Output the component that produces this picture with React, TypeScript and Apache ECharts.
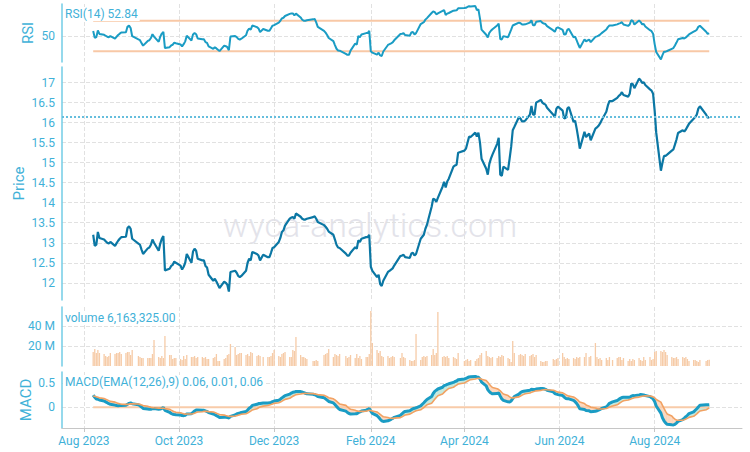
import React, { useEffect, useRef } from 'react';
import * as echarts from 'echarts';

// ---------------- data ----------------
const dataStart = '2023-08-07';
const dataEnd = '2024-09-05';
const marketHolidays = [
  '2023-09-04', '2023-11-23', '2023-12-25', '2024-01-01', '2024-01-15', '2024-02-19',
  '2024-03-29', '2024-05-27', '2024-06-19', '2024-07-04', '2024-09-02',
];

// daily closes, one per trading day of each month
const closeAug2023 = [13.2, 12.92, 12.95, 13.27, 13.12, 13.08, 13.04, 13.0, 12.98, 13.02, 12.92, 12.99, 13.05, 13.1, 13.14, 13.15, 13.37, 13.41, 13.35];
const closeSep2023 = [13.1, 12.98, 12.95, 12.83, 12.72, 12.86, 12.88, 12.95, 13.08, 13.0, 12.8, 12.98, 13.1, 13.17, 12.31, 12.35, 12.42, 12.45, 12.53, 12.5];
const closeOct2023 = [12.43, 12.33, 12.4, 12.5, 12.72, 12.5, 12.78, 12.85, 12.8, 12.6, 12.56, 12.56, 12.42, 12.38, 12.2, 12.05, 12.1, 12.03, 11.95, 11.87, 12.03, 12.0];
const closeNov2023 = [11.95, 11.78, 12.27, 12.3, 12.25, 12.17, 12.14, 12.17, 12.3, 12.5, 12.6, 12.56, 12.77, 12.72, 12.68, 12.56, 12.7, 12.64, 12.64, 12.75, 12.87];
const closeDec2023 = [12.89, 13.02, 13.12, 13.27, 13.31, 13.43, 13.6, 13.63, 13.64, 13.6, 13.73, 13.65, 13.6, 13.58, 13.58, 13.6, 13.64, 13.66, 13.6, 13.52];
const closeJan2024 = [13.44, 13.4, 13.35, 13.28, 13.2, 13.08, 12.95, 12.88, 12.87, 12.73, 12.68, 12.68, 12.75, 12.89, 12.85, 13.06, 13.02, 13.1, 13.14, 13.14, 13.2];
const closeFeb2024 = [12.4, 12.3, 12.14, 12.2, 11.97, 11.92, 12.05, 12.27, 12.3, 12.33, 12.36, 12.43, 12.67, 12.68, 12.7, 12.64, 12.62, 12.73, 12.75, 12.68];
const closeMar2024 = [12.72, 13.1, 13.15, 13.2, 13.35, 13.45, 13.9, 14.1, 14.08, 14.02, 14.12, 14.4, 14.52, 14.38, 14.53, 14.6, 14.9, 14.93, 14.95, 15.25];
const closeApr2024 = [15.3, 15.35, 15.5, 15.65, 15.64, 15.75, 15.65, 15.75, 15.5, 15.1, 14.85, 14.7, 14.97, 15.1, 15.2, 15.47, 15.62, 14.7, 14.67, 14.9, 14.82, 15.1];
const closeMay2024 = [15.4, 15.81, 15.89, 16.14, 16.1, 16.03, 16.03, 16.05, 16.2, 16.42, 16.2, 16.2, 16.5, 16.57, 16.5, 16.47, 16.45, 16.37, 16.2, 16.14, 16.35, 16.4];
const closeJun2024 = [16.3, 16.1, 16.12, 16.35, 16.39, 16.02, 16.05, 15.85, 15.62, 15.35, 15.77, 15.64, 15.73, 15.56, 15.85, 15.88, 15.92, 15.98, 16.06];
const closeJul2024 = [16.27, 16.43, 16.54, 16.54, 16.62, 16.67, 16.7, 16.76, 16.69, 16.65, 16.72, 16.98, 16.96, 16.86, 17.1, 17.06, 16.99, 17.01, 16.94, 16.83, 16.8, 16.72];
const closeAug2024 = [16.3, 15.75, 14.8, 15.0, 15.17, 15.17, 15.2, 15.3, 15.33, 15.45, 15.58, 15.74, 15.81, 15.78, 15.83, 15.9, 15.97, 16.1, 16.14, 16.2, 16.35, 16.41];
const closeSep2024 = [16.2, 16.12, 16.14];

// daily volumes in millions
const volAug2023 = [14, 17, 13, 16, 13, 12, 10, 9, 10, 13, 12, 13, 13, 14, 12, 13, 14, 14, 11];
const volSep2023 = [16, 10, 9, 8, 8, 8, 8, 8, 12, 26, 9, 8, 10, 8, 30, 11, 11, 7, 8, 8];
const volOct2023 = [7, 6, 10, 7, 11, 9, 9, 10, 8, 9, 9, 8, 9, 7, 7, 8, 9, 12, 5, 5, 7, 8];
const volNov2023 = [11, 12, 22, 19, 11, 12, 13, 13, 11, 12, 10, 14, 13, 10, 11, 10, 9, 9, 9, 10, 13];
const volDec2023 = [16, 10, 9, 12, 13, 14, 9, 9, 16, 15, 29, 11, 9, 9, 8, 7, 5, 5, 6, 5];
const volJan2024 = [11, 12, 13, 17, 9, 12, 11, 10, 12, 10, 8, 9, 11, 8, 12, 8, 10, 7, 9, 9, 12];
const volFeb2024 = [55, 23, 16, 13, 15, 10, 9, 10, 8, 9, 10, 9, 8, 13, 9, 8, 6, 5, 5, 6];
const volMar2024 = [32, 6, 9, 10, 9, 10, 11, 17, 11, 13, 54, 9, 10, 9, 10, 8, 9, 8, 7, 13];
const volApr2024 = [5, 6, 7, 5, 6, 5, 7, 8, 11, 13, 15, 10, 9, 8, 9, 8, 10, 9, 11, 10, 8, 7];
const volMay2024 = [4, 25, 13, 11, 12, 11, 10, 12, 10, 11, 12, 9, 11, 5, 4, 4, 5, 5, 7, 6, 7, 8];
const volJun2024 = [13, 9, 7, 8, 7, 8, 7, 9, 8, 9, 9, 13, 9, 10, 23, 9, 7, 8, 6];
const volJul2024 = [8, 6, 9, 6, 8, 9, 9, 6, 8, 5, 7, 5, 7, 6, 8, 6, 5, 9, 6, 9, 6, 7];
const volAug2024 = [14, 15, 15, 14, 16, 14, 11, 9, 8, 8, 9, 7, 9, 8, 9, 7, 5, 6, 6, 5, 4, 6];
const volSep2024 = [5, 6, 6.163325];

// indicator state at the first plotted day
const rsiPeriod = 14;
const rsiSeedGain = 0.065;
const rsiSeedLoss = 0.05;
const macdFast = 12;
const macdSlow = 26;
const macdSignal = 9;
const emaFastSeed = 13.25;
const emaSlowSeed = 13.0;
const signalSeed = 0.23;
const rsiBands = [70, 30];

// axes
const axisMin = '2023-07-18';
const axisMax = '2024-09-26';
const monthTickDates = ['2023-08-01', '2023-10-01', '2023-12-01', '2024-02-01', '2024-04-01', '2024-06-01', '2024-08-01'];
const monthTickLabels = ['Aug 2023', 'Oct 2023', 'Dec 2023', 'Feb 2024', 'Apr 2024', 'Jun 2024', 'Aug 2024'];
const rsiTicks = [50];
const priceTicks = [12, 12.5, 13, 13.5, 14, 14.5, 15, 15.5, 16, 16.5, 17];
const volumeTicks = [20e6, 40e6];
const macdTicks = [0, 0.5];

const titleRsi = 'RSI(14) 52.84';
const titleVolume = 'volume 6,163,325.00';
const titleMacd = 'MACD(EMA(12,26),9) 0.06, 0.01, 0.06';
const watermark = 'wyca-analytics.com';

// ---------------- build ----------------
const DAY = 86400000;
const ts = (s: string) => {
  const [y, m, d] = s.split('-').map(Number);
  return Date.UTC(y, m - 1, d);
};

const closeByMonth: Record<string, number[]> = {
  '2023-08': closeAug2023, '2023-09': closeSep2023, '2023-10': closeOct2023, '2023-11': closeNov2023,
  '2023-12': closeDec2023, '2024-01': closeJan2024, '2024-02': closeFeb2024, '2024-03': closeMar2024,
  '2024-04': closeApr2024, '2024-05': closeMay2024, '2024-06': closeJun2024, '2024-07': closeJul2024,
  '2024-08': closeAug2024, '2024-09': closeSep2024,
};
const volByMonth: Record<string, number[]> = {
  '2023-08': volAug2023, '2023-09': volSep2023, '2023-10': volOct2023, '2023-11': volNov2023,
  '2023-12': volDec2023, '2024-01': volJan2024, '2024-02': volFeb2024, '2024-03': volMar2024,
  '2024-04': volApr2024, '2024-05': volMay2024, '2024-06': volJun2024, '2024-07': volJul2024,
  '2024-08': volAug2024, '2024-09': volSep2024,
};

function buildRows() {
  const hol = new Set(marketHolidays);
  const rows: { t: number; close: number; vol: number }[] = [];
  const counter: Record<string, number> = {};
  for (let t = ts(dataStart); t <= ts(dataEnd); t += DAY) {
    const d = new Date(t);
    const wd = d.getUTCDay();
    if (wd === 0 || wd === 6) continue;
    const iso = d.toISOString().slice(0, 10);
    if (hol.has(iso)) continue;
    const key = iso.slice(0, 7);
    const i = counter[key] ?? 0;
    counter[key] = i + 1;
    const c = closeByMonth[key]?.[i];
    const v = volByMonth[key]?.[i];
    if (c === undefined) continue;
    rows.push({ t, close: c, vol: (v ?? 0) * 1e6 });
  }
  return rows;
}

const FILL_UP = '#c5e9de';
const FILL_DOWN = '#fcd8c0';

function buildOption() {
  const rows = buildRows();
  const times = rows.map((r) => r.t);
  const closes = rows.map((r) => r.close);

  // RSI (Wilder)
  const rsi: number[] = [];
  let g = rsiSeedGain;
  let l = rsiSeedLoss;
  closes.forEach((p, i) => {
    if (i > 0) {
      const ch = p - closes[i - 1];
      g = (g * (rsiPeriod - 1) + Math.max(ch, 0)) / rsiPeriod;
      l = (l * (rsiPeriod - 1) + Math.max(-ch, 0)) / rsiPeriod;
    }
    rsi.push(100 - 100 / (1 + g / l));
  });

  // MACD
  const macd: number[] = [];
  const sig: number[] = [];
  let ef = emaFastSeed;
  let es = emaSlowSeed;
  let s = signalSeed;
  closes.forEach((p, i) => {
    if (i > 0) {
      ef += ((p - ef) * 2) / (macdFast + 1);
      es += ((p - es) * 2) / (macdSlow + 1);
      s += ((ef - es - s) * 2) / (macdSignal + 1);
    }
    macd.push(ef - es);
    sig.push(s);
  });

  const t0 = times[0];
  const tN = times[times.length - 1];
  const lastClose = closes[closes.length - 1];

  const tickTs = monthTickDates.map(ts);
  const labelMap: Record<number, string> = {};
  tickTs.forEach((t, i) => (labelMap[t] = monthTickLabels[i]));

  const font = 'Roboto';
  const txt = '#3fb1d8';
  const axisCol = '#72cde6';
  const split = { show: true, lineStyle: { color: '#e1e1e1', type: 'dashed' as const, width: 1 } };

  const grids = [
    { left: 62, right: 8, top: 4, height: 58 },
    { left: 62, right: 8, top: 67, height: 233 },
    { left: 62, right: 8, top: 307, height: 59 },
    { left: 62, right: 8, top: 372, height: 56 },
  ].map((gr) => ({ ...gr, outerBoundsMode: 'none', containLabel: false }));

  const xAxes = [0, 1, 2, 3].map((gi) => ({
    type: 'value',
    gridIndex: gi,
    min: ts(axisMin),
    max: ts(axisMax),
    axisLine: { show: gi === 3, onZero: false, lineStyle: { color: '#c6c6c6', width: 1 } },
    axisTick: { show: gi === 3, customValues: tickTs, length: 4, lineStyle: { color: '#c6c6c6' } },
    axisLabel: {
      show: gi === 3,
      customValues: tickTs,
      formatter: (v: number) => labelMap[v] ?? '',
      color: txt,
      fontSize: 12,
      fontFamily: font,
      margin: 7,
    },
    splitLine: split,
  }));

  const yBase = (gi: number, min: number, max: number, ticks: number[], extra: any = {}) => ({
    type: 'value',
    gridIndex: gi,
    min,
    max,
    axisLine: { show: true, onZero: false, lineStyle: { color: axisCol, width: 1.5 } },
    axisTick: { show: false, customValues: ticks },
    axisLabel: { customValues: ticks, color: txt, fontSize: 12, fontFamily: font, margin: 7, ...(extra.axisLabel || {}) },
    splitLine: split,
    nameLocation: 'middle',
    nameMoveOverlap: false,
    nameTextStyle: { color: txt, fontSize: 15, fontFamily: font },
    ...(extra.rest || {}),
  });

  const yAxes = [
    yBase(0, 16, 92, rsiTicks, { rest: { name: 'RSI', nameGap: 27 } }),
    yBase(1, 11.57, 17.39, priceTicks, { rest: { name: 'Price', nameGap: 36 } }),
    yBase(2, 0, 59e6, volumeTicks, { axisLabel: { formatter: (v: number) => `${v / 1e6} M` } }),
    yBase(3, -0.42, 0.72, macdTicks, { rest: { name: 'MACD', nameGap: 29 } }),
  ];

  const line = (xi: number, data: any[], color: string, width: number, z = 3, extra: any = {}) => ({
    type: 'line',
    xAxisIndex: xi,
    yAxisIndex: xi,
    data,
    symbol: 'none',
    showSymbol: false,
    silent: true,
    lineStyle: { color, width },
    z,
    ...extra,
  });

  // segments for filling between MACD and signal
  const segs: number[][] = [];
  for (let i = 0; i < times.length - 1; i++) {
    segs.push([times[i], macd[i], sig[i], times[i + 1], macd[i + 1], sig[i + 1]]);
  }

  const fillSeries = {
    type: 'custom',
    xAxisIndex: 3,
    yAxisIndex: 3,
    silent: true,
    z: 2,
    data: segs,
    encode: { x: [0, 3], y: [1, 2, 4, 5] },
    renderItem: (_params: any, api: any) => {
      const a0 = api.value(0), m0 = api.value(1), s0 = api.value(2);
      const a1 = api.value(3), m1 = api.value(4), s1 = api.value(5);
      const d0 = m0 - s0;
      const d1 = m1 - s1;
      const P = (t: number, v: number) => api.coord([t, v]);
      const children: any[] = [];
      const poly = (pts: number[][], pos: boolean) => {
        const c = pos ? FILL_UP : FILL_DOWN;
        children.push({ type: 'polygon', shape: { points: pts }, style: { fill: c, stroke: c, lineWidth: 0.6 } });
      };
      if (d0 * d1 >= 0) {
        poly([P(a0, m0), P(a1, m1), P(a1, s1), P(a0, s0)], d0 + d1 >= 0);
      } else {
        const f = d0 / (d0 - d1);
        const tc = a0 + f * (a1 - a0);
        const vc = m0 + f * (m1 - m0);
        poly([P(a0, m0), P(tc, vc), P(a0, s0)], d0 > 0);
        poly([P(tc, vc), P(a1, m1), P(a1, s1)], d1 > 0);
      }
      return { type: 'group', children };
    },
  };

  const series: any[] = [
    line(0, [[t0, rsiBands[0]], [tN, rsiBands[0]]], '#f8c8a6', 2, 2),
    line(0, [[t0, rsiBands[1]], [tN, rsiBands[1]]], '#f8c8a6', 2, 2),
    line(0, times.map((t, i) => [t, rsi[i]]), '#1a9cc4', 2, 3),
    line(1, times.map((t, i) => [t, closes[i]]), '#0b77a4', 2.2, 3, {
      markLine: {
        silent: true,
        symbol: ['none', 'none'],
        label: { show: false },
        lineStyle: { type: 'dotted', color: '#66bedd', width: 2 },
        data: [{ yAxis: lastClose }],
      },
    }),
    {
      type: 'bar',
      xAxisIndex: 2,
      yAxisIndex: 2,
      data: times.map((t, i) => [t, rows[i].vol]),
      barWidth: 1.3,
      silent: true,
      itemStyle: { color: '#f6cba7' },
    },
    line(3, [[t0, 0], [tN, 0]], '#f8cba9', 2, 2),
    fillSeries,
    line(3, times.map((t, i) => [t, macd[i]]), '#1a9cc4', 3, 4),
    line(3, times.map((t, i) => [t, sig[i]]), '#f2a263', 1.6, 5),
  ];

  const titleStyle = { fontSize: 12, fontWeight: 'normal', color: txt, fontFamily: font };
  const title = [
    { text: titleRsi, left: 63, top: 7 },
    { text: titleVolume, left: 63, top: 311 },
    { text: titleMacd, left: 63, top: 375 },
  ].map((t) => ({ ...t, padding: [1, 2], backgroundColor: '#ffffff', textStyle: titleStyle }));

  return {
    animation: false,
    backgroundColor: '#ffffff',
    textStyle: { fontFamily: font },
    title,
    grid: grids,
    xAxis: xAxes,
    yAxis: yAxes,
    series,
    graphic: [
      {
        type: 'text',
        x: 370,
        y: 225,
        z: 0,
        silent: true,
        style: {
          text: watermark,
          fill: '#e3e3ea',
          fontSize: 34,
          fontFamily: font,
          fontWeight: 300,
          textAlign: 'center',
          textVerticalAlign: 'middle',
        },
      },
    ],
  };
}

export default function App() {
  const ref = useRef<HTMLDivElement>(null);
  useEffect(() => {
    if (!ref.current) return;
    const chart = echarts.init(ref.current, undefined, { renderer: 'svg' });
    chart.setOption(buildOption() as any);
    return () => chart.dispose();
  }, []);
  return (
    <div
      ref={ref}
      style={{ position: 'absolute', left: 0, top: 0, width: 750, height: 452, background: '#fff' }}
    />
  );
}
